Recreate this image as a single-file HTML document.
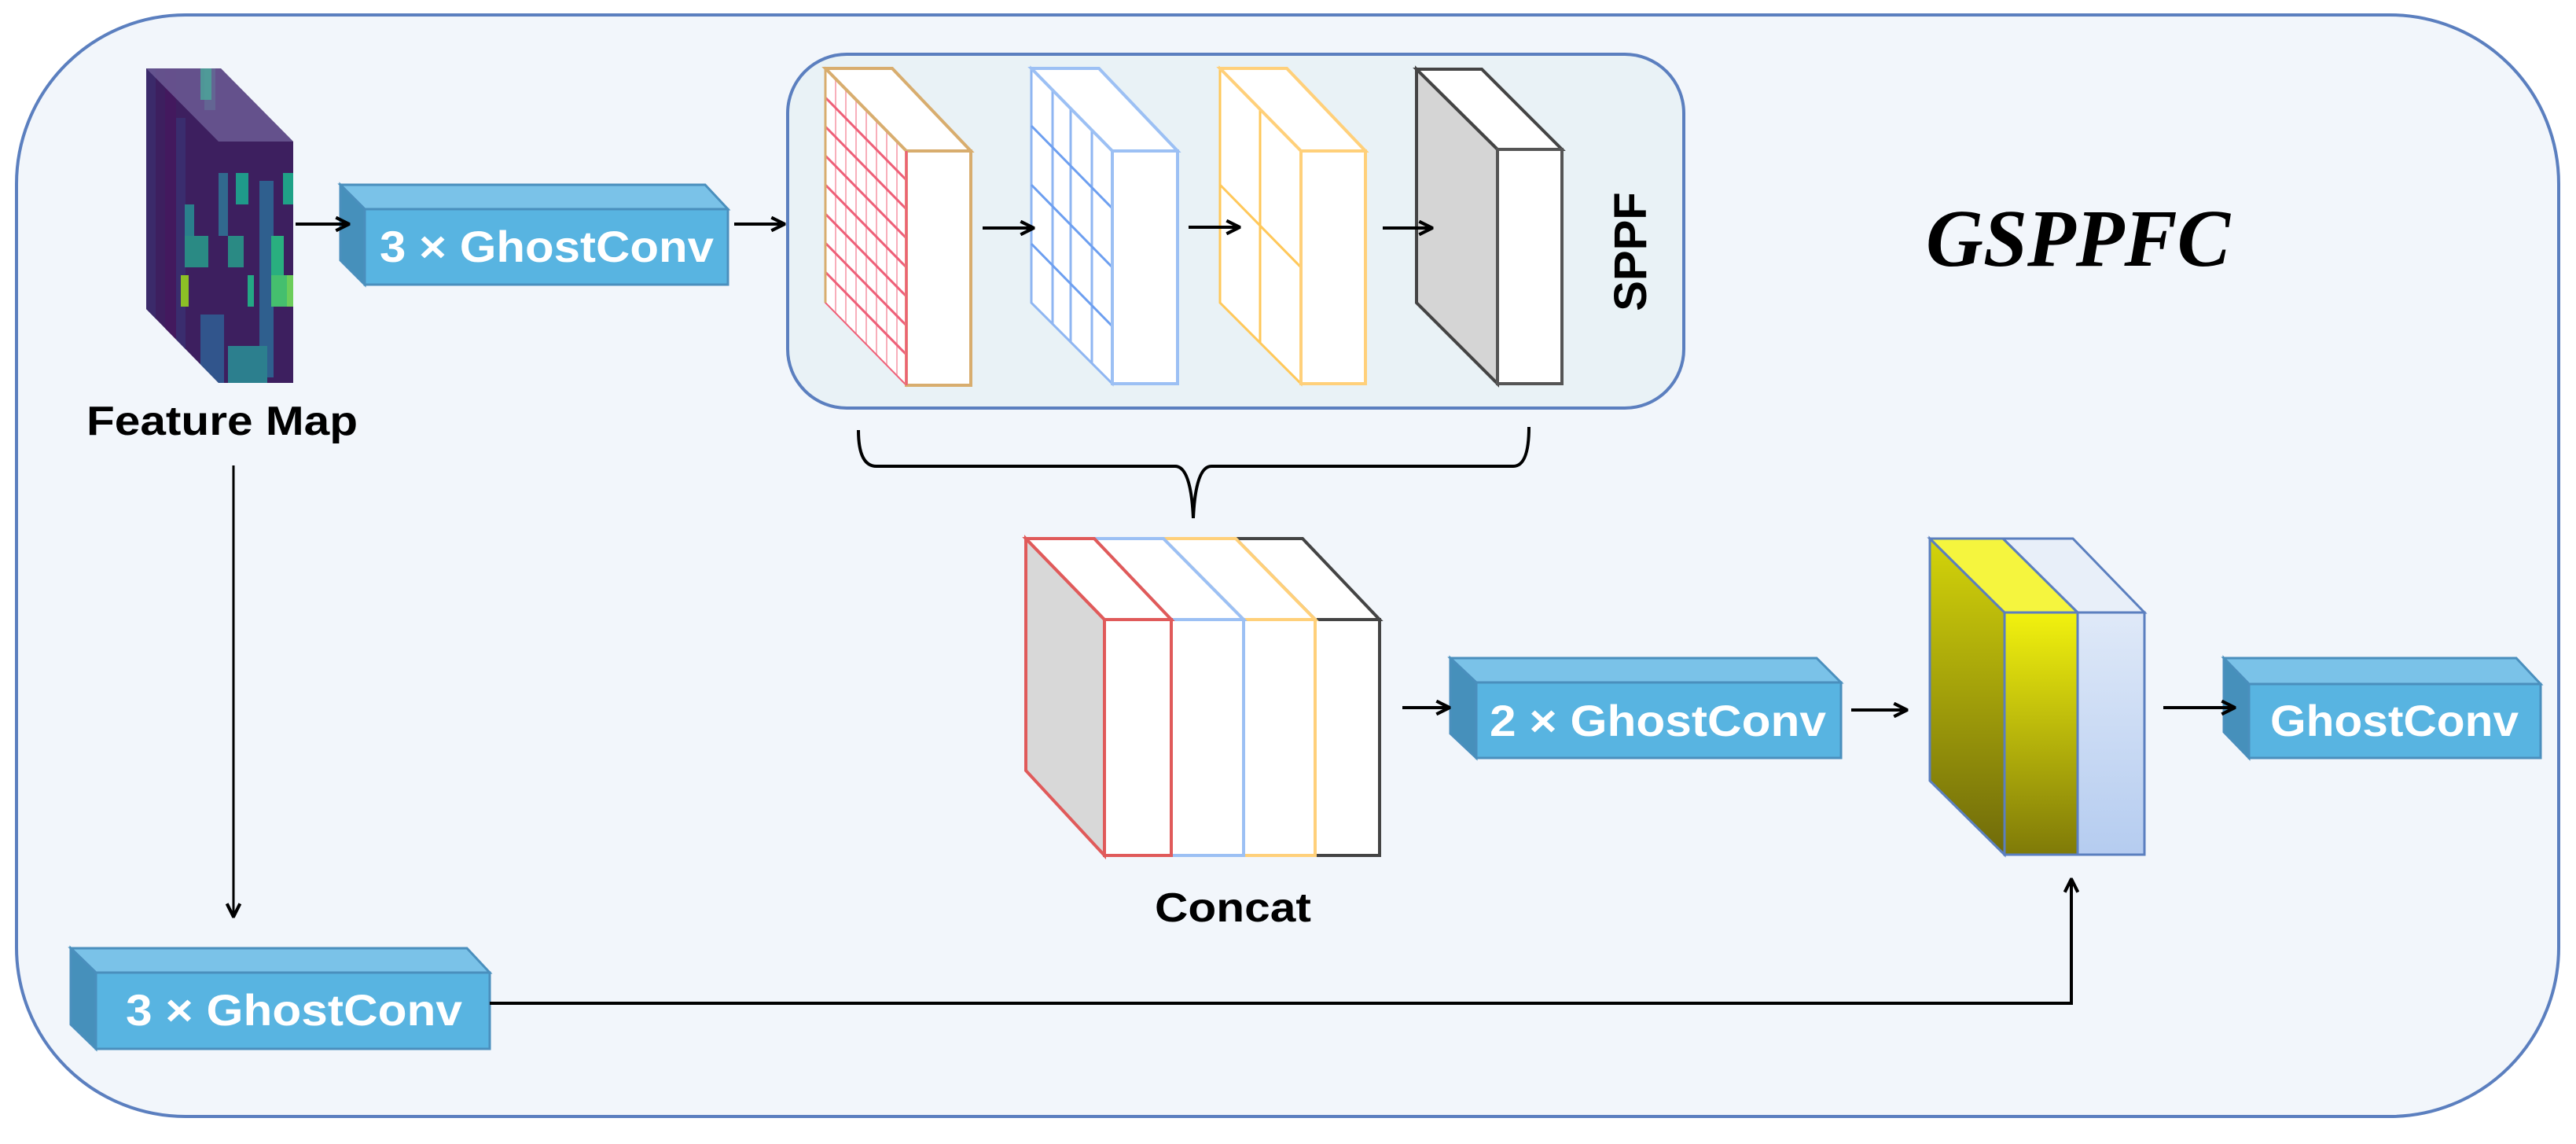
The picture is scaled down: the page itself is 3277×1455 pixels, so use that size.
<!DOCTYPE html>
<html><head><meta charset="utf-8"><style>html,body{margin:0;padding:0;background:#fff}svg{display:block}</style></head>
<body>
<svg width="3277" height="1455" viewBox="0 0 3277 1455" xmlns="http://www.w3.org/2000/svg">
<defs>
<marker id="ah" viewBox="0 0 12 12" refX="11" refY="6" markerWidth="20" markerHeight="20" markerUnits="userSpaceOnUse" orient="auto">
<path d="M1,1 L11,6 L1,11" fill="none" stroke="#000" stroke-width="2.5"/>
</marker>
<clipPath id="fm"><polygon points="186,87 281,87 373,180 373,487 278,487 186,393"/></clipPath>
<clipPath id="c1"><polygon points="1050,87 1153,192 1153,490 1050,385"/></clipPath>
<linearGradient id="yl" x1="0" y1="0" x2="0" y2="1"><stop offset="0" stop-color="#d4d40a"/><stop offset="1" stop-color="#6f6a0a"/></linearGradient>
<linearGradient id="yf" x1="0" y1="0" x2="0" y2="1"><stop offset="0" stop-color="#f2f20e"/><stop offset="1" stop-color="#7f7a08"/></linearGradient>
<linearGradient id="bf" x1="0" y1="0" x2="0" y2="1"><stop offset="0" stop-color="#dfe9f8"/><stop offset="1" stop-color="#b5ccf0"/></linearGradient>
</defs>
<rect x="0" y="0" width="3277" height="1455" fill="#fff"/>
<rect x="21" y="19" width="3234" height="1401" rx="215" ry="215" fill="#f2f6fb" stroke="#5b7fbf" stroke-width="4"/>

<!-- Feature map -->
<g clip-path="url(#fm)">
<rect x="180" y="80" width="200" height="420" fill="#3d1f5f"/>
<rect x="186" y="80" width="12" height="420" fill="#3b2a6a"/>
<rect x="210" y="80" width="14" height="420" fill="#43195e"/>
<rect x="224" y="150" width="12" height="330" fill="#3a2d6e"/>
<rect x="235" y="260" width="12" height="60" fill="#2a7f8c"/>
<rect x="230" y="350" width="10" height="40" fill="#8cbf26"/>
<rect x="235" y="300" width="30" height="40" fill="#2a8a84"/>
<rect x="260" y="80" width="14" height="60" fill="#3aa28a"/>
<rect x="278" y="220" width="12" height="80" fill="#31698e"/>
<rect x="290" y="300" width="20" height="40" fill="#2a8a84"/>
<rect x="300" y="220" width="16" height="40" fill="#1f9a8a"/>
<rect x="315" y="350" width="8" height="40" fill="#23a884"/>
<rect x="330" y="230" width="18" height="250" fill="#2f5f8e"/>
<rect x="345" y="300" width="16" height="50" fill="#29af7f"/>
<rect x="345" y="350" width="20" height="40" fill="#45bf6e"/>
<rect x="360" y="220" width="13" height="40" fill="#1fa187"/>
<rect x="365" y="350" width="8" height="40" fill="#6ccd5a"/>
<rect x="290" y="440" width="50" height="50" fill="#2c7f8e"/>
<rect x="255" y="400" width="30" height="90" fill="#31558c"/>
<polygon points="186,87 281,87 373,180 278,180" fill="#6b5a94" opacity="0.85"/>
<rect x="255" y="87" width="14" height="40" fill="#4aa79a" opacity="0.8"/>
</g>
<text x="110" y="553" font-family="Liberation Sans, sans-serif" font-weight="bold" font-size="52" textLength="345" lengthAdjust="spacingAndGlyphs">Feature Map</text>

<g>
<polygon points="433,235 897,235 926,266 464,266" fill="#7ac2e8" stroke="#4a8fbd" stroke-width="3"/>
<polygon points="433,235 464,266 464,362 433,331" fill="#4690bb" stroke="#4a8fbd" stroke-width="3"/>
<rect x="464" y="266" width="462" height="96" fill="#58b4e1" stroke="#4a8fbd" stroke-width="3"/>
<text x="483" y="333" fill="#fff" font-family="Liberation Sans, sans-serif" font-weight="bold" font-size="56" textLength="425" lengthAdjust="spacingAndGlyphs">3 × GhostConv</text>
</g>
<line x1="376" y1="285" x2="444" y2="285" stroke="#000" stroke-width="4" marker-end="url(#ah)"/>
<line x1="934" y1="285" x2="998" y2="285" stroke="#000" stroke-width="4" marker-end="url(#ah)"/>

<!-- SPPF box -->
<rect x="1002" y="69" width="1140" height="450" rx="75" ry="75" fill="#e9f2f6" stroke="#5b7fbf" stroke-width="4"/>
<polygon points="1050,87 1153,192 1153,490 1050,385" fill="#fff"/>
<g clip-path="url(#c1)" stroke="#f47a8e" stroke-width="2">
<line x1="1063" y1="80" x2="1063" y2="500" opacity="0.6"/><line x1="1076" y1="80" x2="1076" y2="500" opacity="0.6"/><line x1="1089" y1="80" x2="1089" y2="500" opacity="0.6"/><line x1="1102" y1="80" x2="1102" y2="500" opacity="0.6"/><line x1="1115" y1="80" x2="1115" y2="500" opacity="0.6"/><line x1="1128" y1="80" x2="1128" y2="500" opacity="0.6"/><line x1="1141" y1="80" x2="1141" y2="500" opacity="0.6"/>
<g stroke-width="3" stroke="#ee6078">
<line x1="1050" y1="124" x2="1153" y2="229"/><line x1="1050" y1="161" x2="1153" y2="266"/><line x1="1050" y1="198" x2="1153" y2="303"/><line x1="1050" y1="235" x2="1153" y2="340"/><line x1="1050" y1="272" x2="1153" y2="377"/><line x1="1050" y1="309" x2="1153" y2="414"/><line x1="1050" y1="346" x2="1153" y2="451"/>
</g></g>
<polygon points="1050,87 1153,192 1153,490 1050,385" fill="none" stroke="#ee6078" stroke-width="2"/>
<polygon points="1050,87 1135,87 1235,192 1153,192" fill="#fff" stroke="#d8ad6e" stroke-width="4"/>
<rect x="1153" y="192" width="82" height="298" fill="#fff" stroke="#d8ad6e" stroke-width="4"/>
<line x1="1153" y1="192" x2="1153" y2="490" stroke="#ee6078" stroke-width="3"/>
<line x1="1050" y1="87" x2="1050" y2="385" stroke="#d8ad6e" stroke-width="3"/>
<polygon points="1312,87 1415,192 1415,488 1312,385" fill="#fff" stroke="#8fb6f2" stroke-width="3"/>
<g stroke="#8fb6f2" stroke-width="3">
<line x1="1339" y1="114" x2="1339" y2="413"/><line x1="1362" y1="138" x2="1362" y2="436"/><line x1="1389" y1="165" x2="1389" y2="462"/>
<line x1="1312" y1="160" x2="1415" y2="265" stroke="#6d9ff0"/><line x1="1312" y1="235" x2="1415" y2="340" stroke="#6d9ff0"/><line x1="1312" y1="310" x2="1415" y2="415" stroke="#6d9ff0"/>
</g>
<polygon points="1312,87 1398,87 1498,192 1415,192" fill="#fff" stroke="#9cc0f4" stroke-width="4"/>
<rect x="1415" y="192" width="83" height="296" fill="#fff" stroke="#9cc0f4" stroke-width="4"/>
<polygon points="1552,87 1655,192 1655,488 1552,385" fill="#fff" stroke="#ffc85a" stroke-width="3"/>
<line x1="1603" y1="139" x2="1603" y2="436" stroke="#ffc85a" stroke-width="3"/>
<line x1="1552" y1="235" x2="1655" y2="340" stroke="#ffc85a" stroke-width="3"/>
<polygon points="1552,87 1637,87 1737,192 1655,192" fill="#fff" stroke="#ffd07a" stroke-width="4"/>
<rect x="1655" y="192" width="82" height="296" fill="#fff" stroke="#ffd07a" stroke-width="4"/>
<polygon points="1802,88 1905,190 1905,488 1802,385" fill="#d5d5d5" stroke="#444" stroke-width="4"/>
<polygon points="1802,88 1885,88 1987,190 1905,190" fill="#fff" stroke="#444" stroke-width="4"/>
<rect x="1905" y="190" width="82" height="298" fill="#fff" stroke="#555" stroke-width="4"/>
<line x1="1250" y1="290" x2="1315" y2="290" stroke="#000" stroke-width="4" marker-end="url(#ah)"/>
<line x1="1512" y1="289" x2="1577" y2="289" stroke="#000" stroke-width="4" marker-end="url(#ah)"/>
<line x1="1759" y1="290" x2="1822" y2="290" stroke="#000" stroke-width="4" marker-end="url(#ah)"/>
<text transform="translate(2094,320) rotate(-90)" text-anchor="middle" font-family="Liberation Sans, sans-serif" font-weight="bold" font-size="58">SPPF</text>

<text x="2450" y="338" font-family="Liberation Serif, serif" font-weight="bold" font-style="italic" font-size="104" textLength="387" lengthAdjust="spacingAndGlyphs">GSPPFC</text>

<path d="M1092,547 Q1092,593 1115,593 L1495,593 Q1515,593 1518,659 Q1521,593 1541,593 L1925,593 Q1945,593 1945,543" fill="none" stroke="#000" stroke-width="4"/>

<!-- Concat -->
<polygon points="1572,685 1657,685 1755,788 1673,788" fill="#fff" stroke="#444" stroke-width="4"/>
<rect x="1673" y="788" width="82" height="300" fill="#fff" stroke="#444" stroke-width="4"/>
<polygon points="1480,685 1572,685 1673,788 1582,788" fill="#fff" stroke="#ffd07a" stroke-width="4"/>
<rect x="1582" y="788" width="91" height="300" fill="#fff" stroke="#ffd07a" stroke-width="4"/>
<polygon points="1392,685 1480,685 1582,788 1490,788" fill="#fff" stroke="#9cc0f4" stroke-width="4"/>
<rect x="1490" y="788" width="92" height="300" fill="#fff" stroke="#9cc0f4" stroke-width="4"/>
<polygon points="1305,685 1405,788 1405,1088 1305,980" fill="#d8d8d8" stroke="#e05a5a" stroke-width="4"/>
<polygon points="1305,685 1392,685 1490,788 1405,788" fill="#fff" stroke="#e05a5a" stroke-width="4"/>
<rect x="1405" y="788" width="85" height="300" fill="#fff" stroke="#e05a5a" stroke-width="4"/>
<text x="1469" y="1172" font-family="Liberation Sans, sans-serif" font-weight="bold" font-size="52" textLength="199" lengthAdjust="spacingAndGlyphs">Concat</text>

<g>
<polygon points="1845,837 2311,837 2342,868 1878,868" fill="#7ac2e8" stroke="#4a8fbd" stroke-width="3"/>
<polygon points="1845,837 1878,868 1878,964 1845,933" fill="#4690bb" stroke="#4a8fbd" stroke-width="3"/>
<rect x="1878" y="868" width="464" height="96" fill="#58b4e1" stroke="#4a8fbd" stroke-width="3"/>
<text x="1895" y="936" fill="#fff" font-family="Liberation Sans, sans-serif" font-weight="bold" font-size="56" textLength="428" lengthAdjust="spacingAndGlyphs">2 × GhostConv</text>
</g>
<line x1="1784" y1="900" x2="1844" y2="900" stroke="#000" stroke-width="4" marker-end="url(#ah)"/>
<line x1="2355" y1="903" x2="2426" y2="903" stroke="#000" stroke-width="4" marker-end="url(#ah)"/>

<polygon points="2455,685 2550,779 2550,1087 2455,993" fill="url(#yl)" stroke="#5b7fbf" stroke-width="3"/>
<polygon points="2548,685 2637,685 2728,779 2643,779" fill="#e8eff9" stroke="#5b7fbf" stroke-width="3"/>
<polygon points="2455,685 2548,685 2643,779 2550,779" fill="#f5f53e" stroke="#5b7fbf" stroke-width="3"/>
<rect x="2643" y="779" width="85" height="308" fill="url(#bf)" stroke="#5b7fbf" stroke-width="3"/>
<rect x="2550" y="779" width="93" height="308" fill="url(#yf)" stroke="#5b7fbf" stroke-width="3"/>

<g>
<polygon points="2829,837 3201,837 3232,870 2861,870" fill="#7ac2e8" stroke="#4a8fbd" stroke-width="3"/>
<polygon points="2829,837 2861,870 2861,964 2829,931" fill="#4690bb" stroke="#4a8fbd" stroke-width="3"/>
<rect x="2861" y="870" width="371" height="94" fill="#58b4e1" stroke="#4a8fbd" stroke-width="3"/>
<text x="2888" y="936" fill="#fff" font-family="Liberation Sans, sans-serif" font-weight="bold" font-size="56" textLength="316" lengthAdjust="spacingAndGlyphs">GhostConv</text>
</g>
<line x1="2752" y1="900" x2="2843" y2="900" stroke="#000" stroke-width="4" marker-end="url(#ah)"/>

<line x1="297" y1="592" x2="297" y2="1166" stroke="#000" stroke-width="3" marker-end="url(#ah)"/>
<g>
<polygon points="90,1206 594,1206 623,1237 122,1237" fill="#7ac2e8" stroke="#4a8fbd" stroke-width="3"/>
<polygon points="90,1206 122,1237 122,1334 90,1303" fill="#4690bb" stroke="#4a8fbd" stroke-width="3"/>
<rect x="122" y="1237" width="501" height="97" fill="#58b4e1" stroke="#4a8fbd" stroke-width="3"/>
<text x="160" y="1304" fill="#fff" font-family="Liberation Sans, sans-serif" font-weight="bold" font-size="56" textLength="428" lengthAdjust="spacingAndGlyphs">3 × GhostConv</text>
</g>
<polyline points="623,1276 2635,1276 2635,1118" fill="none" stroke="#000" stroke-width="4" marker-end="url(#ah)"/>
</svg>
</body></html>
